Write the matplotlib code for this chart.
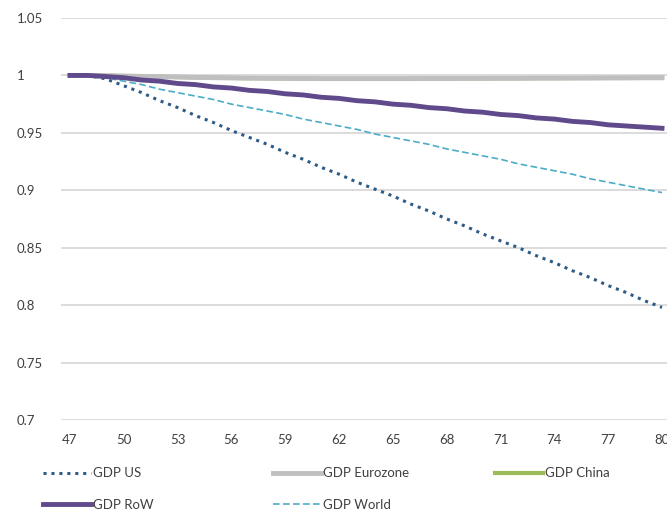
import matplotlib
matplotlib.use("Agg")
import matplotlib.pyplot as plt

plt.rcParams['font.family'] = ['Lato', 'DejaVu Sans']

years = list(range(47, 81))
tick_labels = [str(y) for y in range(47, 81, 3)]

gdp_us = [1.000, 1.000, 0.997, 0.991, 0.985, 0.978, 0.972, 0.965, 0.959, 0.952,
          0.946, 0.940, 0.933, 0.927, 0.920, 0.914, 0.907, 0.901, 0.895, 0.888,
          0.882, 0.875, 0.869, 0.862, 0.856, 0.850, 0.843, 0.837, 0.830, 0.824,
          0.817, 0.811, 0.804, 0.798]
gdp_eurozone = [1.0000, 1.0000, 0.9998, 0.9995, 0.9992, 0.9989, 0.9986, 0.9983, 0.9980, 0.9978,
                0.9976, 0.9975, 0.9974, 0.9973, 0.9972, 0.9972, 0.9972, 0.9972, 0.9972, 0.9972,
                0.9973, 0.9973, 0.9974, 0.9974, 0.9975, 0.9975, 0.9976, 0.9976, 0.9977, 0.9977,
                0.9978, 0.9978, 0.9979, 0.9979]
gdp_china = [1.0000, 1.0000, 0.9998, 0.9995, 0.9992, 0.9989, 0.9986, 0.9983, 0.9980, 0.9978,
             0.9976, 0.9975, 0.9974, 0.9973, 0.9972, 0.9972, 0.9972, 0.9972, 0.9972, 0.9972,
             0.9973, 0.9973, 0.9974, 0.9974, 0.9975, 0.9975, 0.9976, 0.9976, 0.9977, 0.9977,
             0.9978, 0.9978, 0.9979, 0.9979]
gdp_row = [1.000, 1.000, 0.999, 0.998, 0.996, 0.995, 0.993, 0.992, 0.990, 0.989,
           0.987, 0.986, 0.984, 0.983, 0.981, 0.980, 0.978, 0.977, 0.975, 0.974,
           0.972, 0.971, 0.969, 0.968, 0.966, 0.965, 0.963, 0.962, 0.960, 0.959,
           0.957, 0.956, 0.955, 0.954]
gdp_world = [1.000, 1.000, 0.998, 0.995, 0.992, 0.988, 0.985, 0.982, 0.979, 0.975,
             0.972, 0.969, 0.966, 0.962, 0.959, 0.956, 0.953, 0.949, 0.946, 0.943,
             0.940, 0.936, 0.933, 0.930, 0.927, 0.923, 0.920, 0.917, 0.914, 0.910,
             0.907, 0.904, 0.901, 0.898]

yticks = [0.7, 0.75, 0.8, 0.85, 0.9, 0.95, 1, 1.05]
ytick_labels = ['0.7', '0.75', '0.8', '0.85', '0.9', '0.95', '1', '1.05']

W, H = 667, 521
fig = plt.figure(figsize=(W / 100, H / 100), dpi=100)
ax = fig.add_axes([61 / W, 1 - 420 / H, 610 / W, 402 / H])

x = list(range(len(years)))
us, = ax.plot(x, gdp_us, color='#2d5b86', lw=2.2, ls=(0, (1, 1.6)), label='GDP US')
ch, = ax.plot(x, gdp_china, color='#9bbb59', lw=3, label='GDP China')
ez, = ax.plot(x, gdp_eurozone, color='#bfbfbf', lw=3.5, label='GDP Eurozone')
wd, = ax.plot(x, gdp_world, color='#4bacc6', lw=1.2, ls=(0, (4, 2)), label='GDP World')
rw, = ax.plot(x, gdp_row, color='#604a8b', lw=3.5, label='GDP RoW')

ax.set_xlim(-0.5, len(years) - 0.5)
ax.set_ylim(0.7, 1.05)
ax.set_yticks(yticks)
ax.set_yticklabels(ytick_labels)
ax.set_xticks(x[::3])
ax.set_xticklabels(tick_labels)
ax.grid(axis='y', color='#d9d9d9', lw=1.3)
ax.set_axisbelow(True)
for s in ax.spines.values():
    s.set_visible(False)
ax.tick_params(length=0, labelsize=9.5, colors='#404040', pad=10)
ax.tick_params(axis='y', pad=32)
for lbl in ax.get_yticklabels():
    lbl.set_horizontalalignment('left')

leg_kw = dict(frameon=False, fontsize=9.5, handlelength=3.6, handletextpad=0.15,
              labelspacing=1.5, borderaxespad=0, loc='upper left')
cols = [([us, rw], 38), ([ez, wd], 268), ([ch], 490)]
for handles, px in cols:
    leg = fig.legend(handles=handles, labels=[h.get_label() for h in handles],
                     bbox_to_anchor=(px / W, 1 - 462 / H), **leg_kw)
    for t in leg.get_texts():
        t.set_color('#404040')

fig.savefig('out.png', dpi=100)
